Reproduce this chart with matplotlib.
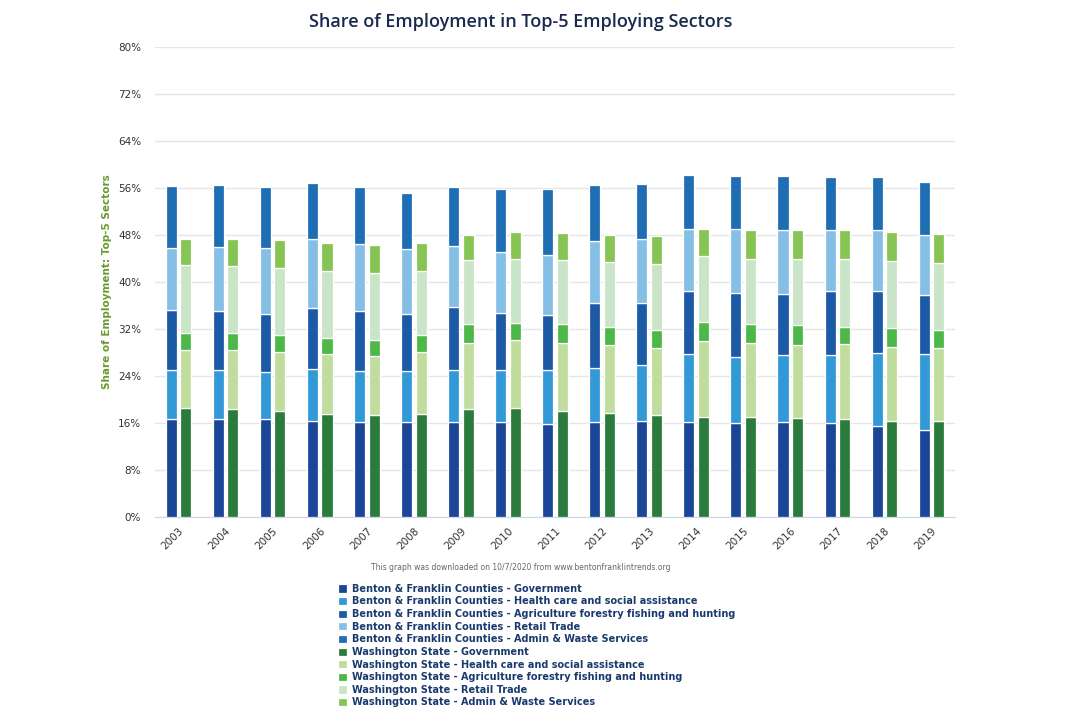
import matplotlib
matplotlib.use("Agg")
import matplotlib.pyplot as plt
import numpy as np

years = [str(y) for y in range(2003, 2020)]

# Benton & Franklin Counties (% share)
bf_gov    = [16.7, 16.7, 16.6, 16.4, 16.1, 16.1, 16.2, 16.1, 15.9, 16.1, 16.4, 16.2, 16.0, 16.1, 16.0, 15.5, 14.8]
bf_health = [8.3, 8.3, 8.1, 8.8, 8.7, 8.7, 8.8, 8.9, 9.1, 9.3, 9.4, 11.5, 11.2, 11.5, 11.6, 12.4, 12.9]
bf_agri   = [10.2, 10.1, 9.9, 10.3, 10.3, 9.8, 10.7, 9.8, 9.4, 11.0, 10.7, 10.7, 11.0, 10.4, 10.8, 10.5, 10.1]
bf_retail = [10.6, 10.8, 11.2, 11.9, 11.3, 11.1, 10.5, 10.3, 10.2, 10.6, 10.8, 10.6, 10.9, 10.9, 10.5, 10.5, 10.2]
bf_admin  = [10.5, 10.6, 10.4, 9.4, 9.7, 9.4, 9.9, 10.7, 11.2, 9.5, 9.4, 9.2, 8.9, 9.1, 9.0, 9.0, 9.1]

# Washington State (% share)
wa_gov    = [18.6, 18.4, 18.0, 17.5, 17.3, 17.5, 18.4, 18.6, 18.1, 17.7, 17.4, 17.1, 17.0, 16.9, 16.7, 16.4, 16.4]
wa_health = [9.9, 10.1, 10.1, 10.2, 10.1, 10.6, 11.3, 11.5, 11.6, 11.5, 11.4, 12.9, 12.6, 12.4, 12.7, 12.6, 12.4]
wa_agri   = [2.9, 2.9, 2.9, 2.8, 2.8, 2.9, 3.1, 3.0, 3.1, 3.2, 3.1, 3.2, 3.2, 3.3, 3.0, 3.1, 3.0]
wa_retail = [11.5, 11.3, 11.4, 11.4, 11.3, 10.9, 10.9, 10.9, 10.9, 11.0, 11.2, 11.2, 11.2, 11.4, 11.6, 11.5, 11.5]
wa_admin  = [4.4, 4.7, 4.7, 4.8, 4.8, 4.8, 4.3, 4.5, 4.6, 4.6, 4.7, 4.7, 4.9, 4.9, 4.9, 4.9, 4.9]

sectors = ["Government", "Health care and social assistance",
           "Agriculture forestry fishing and hunting", "Retail Trade",
           "Admin & Waste Services"]
bf_series = [bf_gov, bf_health, bf_agri, bf_retail, bf_admin]
wa_series = [wa_gov, wa_health, wa_agri, wa_retail, wa_admin]
bf_colors = ["#1b4597", "#3399d6", "#1d5aa6", "#85bfe6", "#1f6db3"]
wa_colors = ["#2b7b3c", "#c0dd9e", "#4cb848", "#c9e4c6", "#86c454"]

fig = plt.figure(figsize=(10.8, 7.2), dpi=100)
ax = fig.add_axes([155/1080, 1-517/720, 800/1080, 470/720])

x = np.arange(len(years))
w = 0.235
off = 0.155
handles = []
bottom = np.zeros(len(years))
for vals, c, s in zip(bf_series, bf_colors, sectors):
    h = ax.bar(x - off, vals, w, bottom=bottom, color=c, edgecolor="white", linewidth=0.9,
               label=f"Benton & Franklin Counties - {s}", zorder=3)
    handles.append(h)
    bottom += np.array(vals)
bottom = np.zeros(len(years))
for vals, c, s in zip(wa_series, wa_colors, sectors):
    h = ax.bar(x + off, vals, w, bottom=bottom, color=c, edgecolor="white", linewidth=0.9,
               label=f"Washington State - {s}", zorder=3)
    handles.append(h)
    bottom += np.array(vals)

ax.set_xlim(-0.5, len(years) - 0.5)
ax.set_ylim(0, 80)
ax.set_yticks(np.arange(0, 81, 8))
ax.set_yticklabels([f"{v}%" for v in range(0, 81, 8)], fontsize=7.5, color="#333333")
ax.set_xticks(x)
ax.set_xticklabels(years, rotation=45, ha="right", rotation_mode="anchor",
                   fontsize=7.5, color="#333333")
ax.tick_params(axis="y", length=0, pad=10)
ax.tick_params(axis="x", length=0, pad=6)
ax.grid(axis="y", color="#e6e6e6", linewidth=1, zorder=0)
for sp in ["top", "right", "left"]:
    ax.spines[sp].set_visible(False)
ax.spines["bottom"].set_color("#ccd6eb")
ax.set_ylabel("Share of Employment: Top-5 Sectors", fontsize=7.5, color="#6a9a2e",
              fontweight="bold", labelpad=4)

fig.text(0.482, 1 - 22/720, "Share of Employment in Top-5 Employing Sectors",
         ha="center", va="center", fontsize=13, color="#1a2a4f", family="Open Sans",
         fontweight="semibold")
fig.text(0.482, 1 - 567/720,
         "This graph was downloaded on 10/7/2020 from www.bentonfranklintrends.org",
         ha="center", va="center", fontsize=5.5, color="#666666")

fig.legend(handles=handles, loc="upper left", bbox_to_anchor=(333/1080, 1 - 579/720),
           frameon=False, ncol=1, handlelength=0.9, handleheight=0.9,
           handletextpad=0.6, labelspacing=0.27, borderpad=0,
           prop={"weight": "bold", "size": 7},
           labelcolor="#1a3a6e")

fig.savefig("out.png", dpi=100, facecolor="white")
